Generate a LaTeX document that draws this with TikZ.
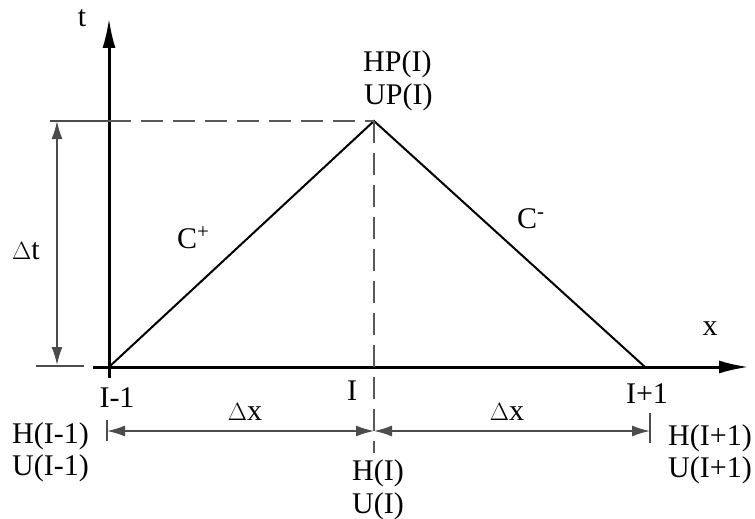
\documentclass[tikz,border=0pt]{standalone}
\usepackage{fontspec}
\setmainfont{Liberation Serif}
\usetikzlibrary{arrows.meta}
\begin{document}
\begin{tikzpicture}[x=1pt,y=-1pt,
  lbl/.style={font=\fontsize{30}{34}\selectfont, inner sep=0pt, anchor=base},
  lblw/.style={lbl, anchor=base west},
  axis/.style={line width=3pt, -{Latex[length=30pt,width=13pt]}},
  tri/.style={line width=2pt},
  dashln/.style={line width=2.5pt, black!65, dash pattern=on 22pt off 10pt},
  dim/.style={line width=1.6pt, black!70},
  dimarr/.style={dim, {Latex[length=18pt,width=11pt]}-{Latex[length=18pt,width=11pt]}},
]
\useasboundingbox (0,0) rectangle (755,519);
% key points
\coordinate (O) at (109,367);
\coordinate (Obot) at (109,378);
\coordinate (Oleft) at (93,367);
\coordinate (T) at (109,18);
\coordinate (X) at (749,367);
\coordinate (P) at (374,121);
\coordinate (R) at (645,367);
\coordinate (Pbot) at (374,453);
\coordinate (DL) at (50,121);
\coordinate (DA) at (109,121);
\coordinate (DtT) at (57,121);
\coordinate (DtB) at (57,365);
\coordinate (ExL) at (36,366);
\coordinate (ExR) at (84,366);
\coordinate (XL) at (107,431);
\coordinate (XM) at (374,431);
\coordinate (XR) at (650,431);
\coordinate (TkLa) at (107,420);
\coordinate (TkLb) at (107,441);
\coordinate (TkRa) at (650,413);
\coordinate (TkRb) at (650,443);

% axes
\draw[axis] (Obot) -- (T);
\draw[axis] (Oleft) -- (X);
% triangle
\draw[tri] (O) -- (P) -- (R);
% dashed lines
\draw[dashln] (DA) -- (P);
\draw[dashln] (P) -- (Pbot);
% delta t dimension
\draw[dim] (DL) -- (DA);
\draw[dimarr] (DtT) -- (DtB);
\draw[dim] (ExL) -- (ExR);
% delta x dimensions
\draw[dimarr] (XL) -- (XM);
\draw[dimarr] (XM) -- (XR);
\draw[dim] (TkLa) -- (TkLb);
\draw[dim] (TkRa) -- (TkRb);

% labels
\node[lbl] (lt) at (82,27) {t};
\node[lbl] (lx) at (710,335) {x};
\node[lblw] (lhp) at (363,71) {HP(I)};
\node[lblw] (lup) at (364,104) {UP(I)};
\node[lbl] (ldt) at (26,259) {$\Delta$t};
\node[lblw] (lcp) at (177,248) {C\textsuperscript{+}};
\node[lblw] (lcm) at (517,228) {C\textsuperscript{-}};
\node[lbl] (lim) at (117,407) {I-1};
\node[lbl] (li) at (352,400) {I};
\node[lbl] (lip) at (647,403) {I+1};
\node[lbl] (ldx1) at (245,420) {$\Delta$x};
\node[lbl] (ldx2) at (507,420) {$\Delta$x};
\node[lblw] (lhm) at (12,443) {H(I-1)};
\node[lblw] (lum) at (12,475) {U(I-1)};
\node[lblw] (lh) at (352,480) {H(I)};
\node[lblw] (lu) at (352,513) {U(I)};
\node[lblw] (lhpl) at (668,445) {H(I+1)};
\node[lblw] (lupl) at (668,477) {U(I+1)};
\end{tikzpicture}
\end{document}
